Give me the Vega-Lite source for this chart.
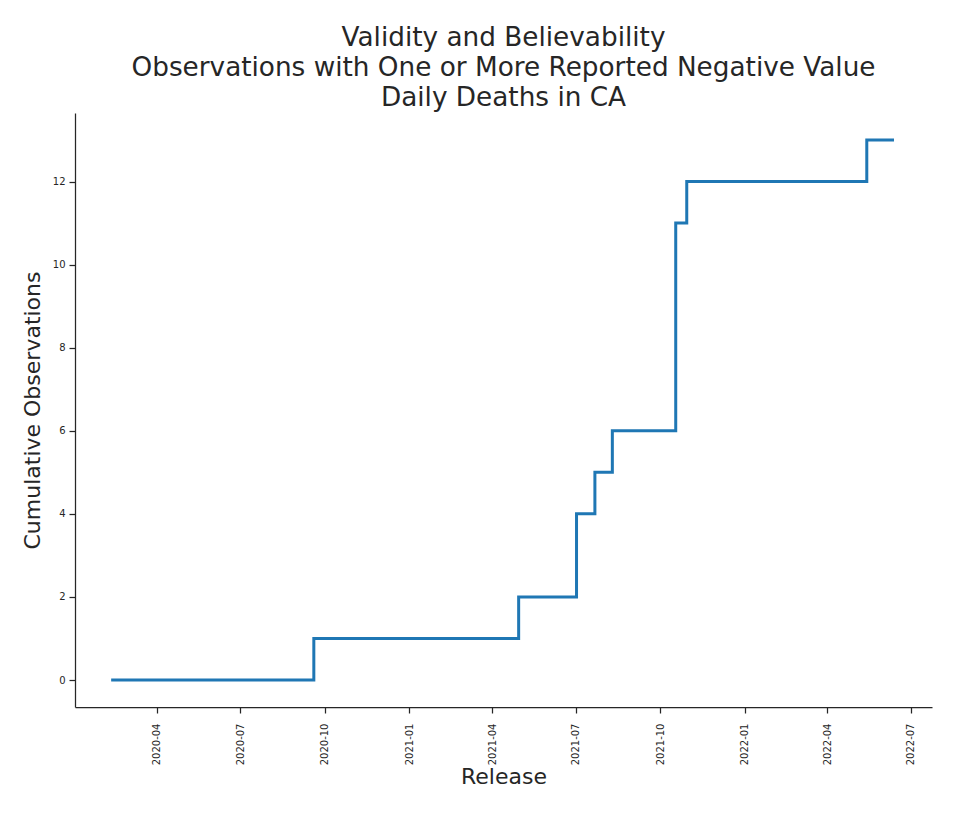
{
  "$schema": "https://vega.github.io/schema/vega-lite/v6.json",
  "autosize": {"type": "none"},
  "width": 857,
  "height": 594,
  "padding": {"left": 75, "top": 113, "right": 23, "bottom": 108},
  "background": "white",
  "title": {
    "text": ["Validity and Believability", "Observations with One or More Reported Negative Value", "Daily Deaths in CA"],
    "anchor": "middle",
    "frame": "group",
    "font": "DejaVu Sans",
    "fontSize": 26.3,
    "fontWeight": "normal",
    "color": "#262626",
    "lineHeight": 30,
    "baseline": "alphabetic",
    "offset": 5,
    "dy": 24
  },
  "config": {
    "view": {"stroke": null},
    "font": "DejaVu Sans",
    "axis": {
      "grid": false,
      "domainColor": "#262626",
      "domainWidth": 1.25,
      "tickColor": "#262626",
      "tickWidth": 1.25,
      "tickSize": 6,
      "labelFont": "DejaVu Sans",
      "labelFontSize": 10,
      "labelColor": "#262626",
      "titleFont": "DejaVu Sans",
      "titleFontSize": 22,
      "titleFontWeight": "normal",
      "titleColor": "#262626"
    }
  },
  "data": {
    "values": [
      {"date": "2020-02-13", "count": 0},
      {"date": "2020-09-19", "count": 1},
      {"date": "2021-04-30", "count": 2},
      {"date": "2021-07-02", "count": 4},
      {"date": "2021-07-22", "count": 5},
      {"date": "2021-08-10", "count": 6},
      {"date": "2021-10-18", "count": 11},
      {"date": "2021-10-30", "count": 12},
      {"date": "2022-05-14", "count": 13},
      {"date": "2022-06-11", "count": 13}
    ]
  },
  "mark": {"type": "line", "interpolate": "step-after", "color": "#1f77b4", "strokeWidth": 3, "strokeCap": "square"},
  "encoding": {
    "x": {
      "field": "date",
      "type": "temporal",
      "scale": {
        "type": "utc",
        "domain": [
          {"year": 2020, "month": 1, "date": 3, "utc": true},
          {"year": 2022, "month": 7, "date": 24, "utc": true}
        ],
        "nice": false
      },
      "axis": {
        "title": "Release",
        "format": "%Y-%m",
        "labelAngle": 270,
        "labelPadding": 10,
        "titlePadding": 2,
        "values": [
          {"year": 2020, "month": 4, "date": 1, "utc": true},
          {"year": 2020, "month": 7, "date": 1, "utc": true},
          {"year": 2020, "month": 10, "date": 1, "utc": true},
          {"year": 2021, "month": 1, "date": 1, "utc": true},
          {"year": 2021, "month": 4, "date": 1, "utc": true},
          {"year": 2021, "month": 7, "date": 1, "utc": true},
          {"year": 2021, "month": 10, "date": 1, "utc": true},
          {"year": 2022, "month": 1, "date": 1, "utc": true},
          {"year": 2022, "month": 4, "date": 1, "utc": true},
          {"year": 2022, "month": 7, "date": 1, "utc": true}
        ]
      }
    },
    "y": {
      "field": "count",
      "type": "quantitative",
      "scale": {"domain": [-0.65, 13.65], "nice": false, "zero": false},
      "axis": {
        "title": "Cumulative Observations",
        "values": [0, 2, 4, 6, 8, 10, 12],
        "format": "d",
        "labelPadding": 4,
        "titlePadding": 8
      }
    }
  }
}
